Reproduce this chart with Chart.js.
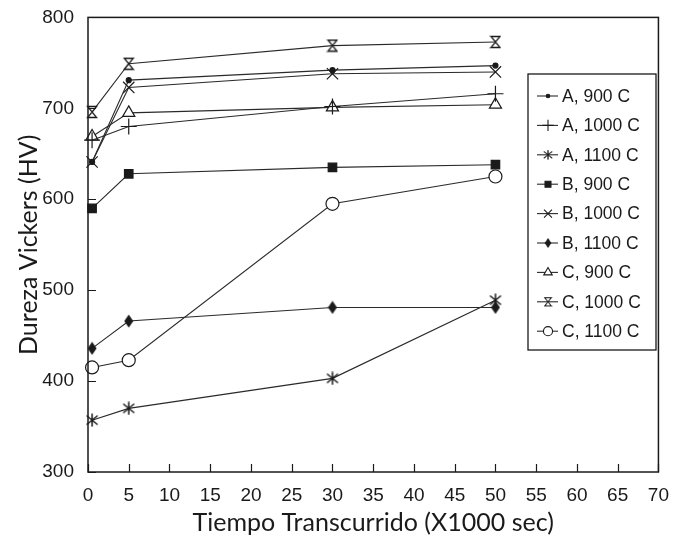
<!DOCTYPE html>
<html>
<head>
<meta charset="utf-8">
<script src="https://cdn.jsdelivr.net/npm/chart.js@4.4.0/dist/chart.umd.min.js"></script>
<style>
  html, body { margin: 0; padding: 0; background: #fff; }
  #wrap { width: 673px; height: 540px; }
</style>
</head>
<body>
<div id="wrap"><canvas id="hardness"></canvas></div>
<script>
// Tiempo (x1000 s) and dureza (HV) for each alloy / temperature
const times = [0.5, 5, 30, 50];
const a900 = [641, 731, 742, 747];
const a1000 = [665, 680, 702, 716];
const a1100 = [357, 370, 403, 489];
const b900 = [590, 628, 635, 638];
const b1000 = [641, 723, 738, 740];
const b1100 = [436, 466, 481, 481];
const c900 = [669, 695, 701, 704];
const c1000 = [696, 749, 769, 773];
const c1100 = [415, 423, 595, 625];

const seriesLabels = [
    'A, 900 C', 'A, 1000 C', 'A, 1100 C',
    'B, 900 C', 'B, 1000 C', 'B, 1100 C',
    'C, 900 C', 'C, 1000 C', 'C, 1100 C'
];
const seriesValues = [a900, a1000, a1100, b900, b1000, b1100, c900, c1000, c1100];

const xTicks = [0, 5, 10, 15, 20, 25, 30, 35, 40, 45, 50, 55, 60, 65, 70];
const yTicks = [300, 400, 500, 600, 700, 800];

const INK = '#1a1a1a';

// small canvases used as point styles for the markers Chart.js lacks
function makeMarker(w, h, draw) {
    const c = document.createElement('canvas');
    c.width = w;
    c.height = h;
    const g = c.getContext('2d');
    g.strokeStyle = INK;
    g.fillStyle = INK;
    g.lineWidth = 1.3;
    draw(g, w, h);
    return c;
}

const hourglass = makeMarker(12, 14, (g, w, h) => {
    g.fillStyle = '#fff';
    g.beginPath();
    g.moveTo(1.5, 1.5);
    g.lineTo(w - 1.5, 1.5);
    g.lineTo(1.5, h - 1.5);
    g.lineTo(w - 1.5, h - 1.5);
    g.closePath();
    g.fill();
    g.stroke();
});

const diamond = makeMarker(10, 14, (g, w, h) => {
    g.beginPath();
    g.moveTo(w / 2, 0.5);
    g.lineTo(w - 0.5, h / 2);
    g.lineTo(w / 2, h - 0.5);
    g.lineTo(0.5, h / 2);
    g.closePath();
    g.fill();
});

const asterisk = makeMarker(14, 14, (g, w, h) => {
    g.lineWidth = 1.5;
    g.beginPath();
    g.moveTo(1.5, 2.5); g.lineTo(w - 1.5, h - 2.5);
    g.moveTo(w - 1.5, 2.5); g.lineTo(1.5, h - 2.5);
    g.moveTo(w / 2, 0.5); g.lineTo(w / 2, h - 0.5);
    g.stroke();
});

const markerStyles = [
    { pointStyle: 'circle', pointRadius: 2.5, fill: INK },
    { pointStyle: 'cross', pointRadius: 8, fill: INK },
    { pointStyle: asterisk, pointRadius: 7, fill: INK },
    { pointStyle: 'rect', pointRadius: 6, fill: INK },
    { pointStyle: 'crossRot', pointRadius: 8, fill: INK },
    { pointStyle: diamond, pointRadius: 7, fill: INK },
    { pointStyle: 'triangle', pointRadius: 7, fill: '#fff' },
    { pointStyle: hourglass, pointRadius: 7, fill: '#fff' },
    { pointStyle: 'circle', pointRadius: 6.5, fill: '#fff' }
];

const datasets = seriesLabels.map((label, i) => ({
    label: label,
    data: times.map((t, k) => ({ x: t, y: seriesValues[i][k] })),
    borderColor: '#2a2a2a',
    borderWidth: 1.1,
    pointStyle: markerStyles[i].pointStyle,
    pointRadius: markerStyles[i].pointRadius,
    pointBackgroundColor: markerStyles[i].fill,
    pointBorderColor: INK,
    pointBorderWidth: 1.2,
    tension: 0,
    clip: false
}));

// box frame plus inward tick marks on the bottom and left axes
const frameAndTicks = {
    id: 'frameAndTicks',
    afterDatasetsDraw(chart) {
        const { ctx, chartArea: a, scales } = chart;
        ctx.save();
        ctx.strokeStyle = INK;
        ctx.lineWidth = 1.5;
        ctx.strokeRect(a.left, a.top, a.right - a.left, a.bottom - a.top);
        ctx.lineWidth = 1.2;
        ctx.beginPath();
        xTicks.forEach(v => {
            const px = Math.round(scales.x.getPixelForValue(v)) + 0.5;
            ctx.moveTo(px, a.bottom);
            ctx.lineTo(px, a.bottom - 8);
        });
        yTicks.forEach(v => {
            const py = Math.round(scales.y.getPixelForValue(v)) + 0.5;
            ctx.moveTo(a.left, py);
            ctx.lineTo(a.left + 8, py);
        });
        ctx.stroke();
        ctx.restore();
    }
};

// legend boxed inside the plot, right side
const boxedLegend = {
    id: 'boxedLegend',
    afterDraw(chart) {
        const { ctx } = chart;
        const left = 528, top = 74, right = 656, bottom = 350;
        const rowH = 29.4, firstY = 96;
        ctx.save();
        ctx.fillStyle = '#fff';
        ctx.fillRect(left, top, right - left, bottom - top);
        ctx.strokeStyle = INK;
        ctx.lineWidth = 1.3;
        ctx.strokeRect(left, top, right - left, bottom - top);
        ctx.font = '17.5px "Liberation Sans", Arial, sans-serif';
        ctx.textBaseline = 'middle';
        chart.data.datasets.forEach((ds, i) => {
            const y = firstY + i * rowH;
            ctx.strokeStyle = '#2a2a2a';
            ctx.lineWidth = 1.1;
            ctx.beginPath();
            ctx.moveTo(537, y);
            ctx.lineTo(558, y);
            ctx.stroke();
            const st = ds.pointStyle;
            if (st instanceof HTMLCanvasElement) {
                const w = st.width * 0.75, h = st.height * 0.75;
                ctx.drawImage(st, 548 - w / 2, y - h / 2, w, h);
            } else {
                ctx.fillStyle = ds.pointBackgroundColor;
                ctx.strokeStyle = INK;
                Chart.helpers.drawPoint(ctx, {
                    pointStyle: st,
                    radius: ds.pointRadius * 0.7,
                    borderWidth: 1.1
                }, 548, y);
            }
            ctx.fillStyle = INK;
            ctx.fillText(ds.label, 562, y + 1);
        });
        ctx.restore();
    }
};

const tickFont = { family: '"Liberation Sans", Arial, sans-serif', size: 19 };
const titleFont = { family: 'Lato, "Open Sans", sans-serif', size: 25 };

new Chart(document.getElementById('hardness').getContext('2d'), {
    type: 'line',
    data: { datasets: datasets },
    options: {
        responsive: true,
        maintainAspectRatio: false,
        animation: false,
        layout: { padding: { top: 15, right: 9, left: 0, bottom: 0 } },
        plugins: {
            legend: { display: false },
            tooltip: { enabled: false }
        },
        scales: {
            x: {
                type: 'linear',
                min: 0,
                max: 70,
                afterBuildTicks: scale => { scale.ticks = xTicks.map(v => ({ value: v })); },
                afterFit: scale => { scale.height = 68; },
                grid: { display: false },
                border: { display: false },
                ticks: { color: INK, font: tickFont, padding: 4, maxRotation: 0, autoSkip: false },
                title: {
                    display: true,
                    text: 'Tiempo Transcurrido (X1000 sec)',
                    color: INK,
                    font: titleFont,
                    padding: { top: 0, bottom: 2 }
                }
            },
            y: {
                min: 300,
                max: 800,
                afterBuildTicks: scale => { scale.ticks = yTicks.map(v => ({ value: v })); },
                afterFit: scale => { scale.width = 88; },
                grid: { display: false },
                border: { display: false },
                ticks: { color: INK, font: tickFont, padding: 6 },
                title: {
                    display: true,
                    text: 'Dureza Vickers (HV)',
                    color: INK,
                    font: titleFont,
                    padding: { top: 14, bottom: 0 }
                }
            }
        }
    },
    plugins: [frameAndTicks, boxedLegend]
});
</script>
</body>
</html>
